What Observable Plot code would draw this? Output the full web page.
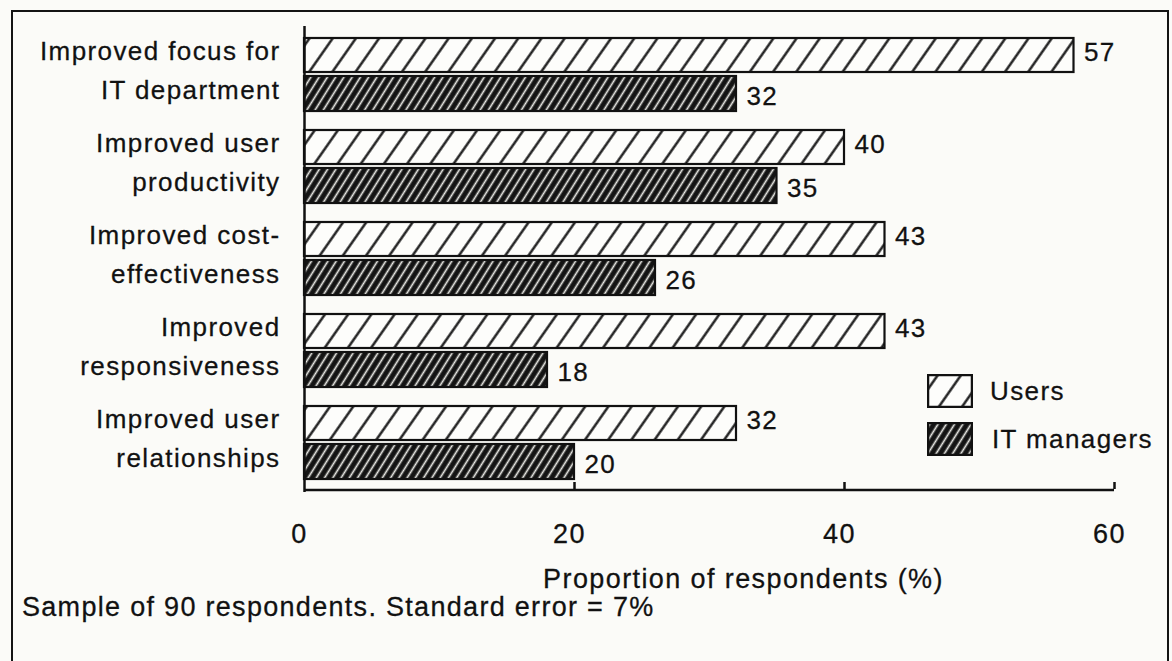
<!DOCTYPE html>
<html>
<head>
<meta charset="utf-8">
<script src="https://cdn.jsdelivr.net/npm/d3@7"></script>
<script src="https://cdn.jsdelivr.net/npm/@observablehq/plot@0.6"></script>
<style>
  html, body { margin: 0; padding: 0; }
  body { width: 1172px; height: 661px; overflow: hidden; position: relative; background: #fbfbf8;
         font-family: "Liberation Sans", Arial, Helvetica, sans-serif; color: #111; }
  #frame { position: absolute; left: 11px; top: 10px; width: 1154px; height: 700px;
           border: 2px solid #141414; border-bottom: none; pointer-events: none; }
  #chart { position: absolute; left: 0; top: 0; }
  #chart text { letter-spacing: 1.4px; stroke: #111; stroke-width: 0.28px; }
  #caption { position: absolute; left: 22px; top: 592px; font-size: 27px; line-height: 30px; letter-spacing: 1.3px; -webkit-text-stroke: 0.28px #111; }
  .leg { position: absolute; display: flex; align-items: center; font-size: 26px; letter-spacing: 1.4px; -webkit-text-stroke: 0.28px #111; }
  .leg svg { display: block; }
</style>
</head>
<body>
<svg width="0" height="0" style="position:absolute">
  <defs>
    <pattern id="hatchUsers" patternUnits="userSpaceOnUse" width="19" height="19" patternTransform="rotate(35)">
      <rect width="19" height="19" fill="#fdfdfb"></rect>
      <line x1="9.5" y1="0" x2="9.5" y2="19" stroke="#111" stroke-width="2.3"></line>
    </pattern>
    <pattern id="hatchIT" patternUnits="userSpaceOnUse" width="7" height="8" patternTransform="rotate(32)">
      <rect width="7" height="8" fill="#141414"></rect>
      <line x1="3.5" y1="0" x2="3.5" y2="8" stroke="#ecece8" stroke-width="1.7"></line>
    </pattern>
  </defs>
</svg>
<div id="frame"></div>
<div id="chart"></div>
<div class="leg" style="left:927px; top:374px;">
  <svg width="46" height="34"><rect x="1" y="1" width="44" height="32" fill="url(#hatchUsers)" stroke="#111" stroke-width="2.5"></rect></svg>
  <span style="margin-left:17px">Users</span>
</div>
<div class="leg" style="left:927px; top:422px;">
  <svg width="46" height="34"><rect x="1" y="1" width="44" height="32" fill="url(#hatchIT)" stroke="#111" stroke-width="2.5"></rect></svg>
  <span style="margin-left:19px">IT managers</span>
</div>
<div id="caption">Sample of 90 respondents. Standard error = 7%</div>
<script>
const categories = [
  "Improved focus for\nIT department",
  "Improved user\nproductivity",
  "Improved cost-\neffectiveness",
  "Improved\nresponsiveness",
  "Improved user\nrelationships"
];
const users = [57, 40, 43, 43, 32];
const itManagers = [32, 35, 26, 18, 20];
const xTicks = [0, 20, 40, 60];
const xDomain = [0, 60];
const xTitle = "Proportion of respondents (%)";

const usersData = categories.map((c, i) => ({cat: c, value: users[i]}));
const itData = categories.map((c, i) => ({cat: c, value: itManagers[i]}));
const lastCat = categories[categories.length - 1];

const chart = Plot.plot({
  width: 1172,
  height: 600,
  marginLeft: 304,
  marginRight: 58,
  marginTop: 26,
  marginBottom: 108,
  x: {domain: xDomain, axis: null},
  y: {domain: categories, paddingInner: 0.204, paddingOuter: 0.108, axis: null},
  style: {background: "transparent", fontFamily: "'Liberation Sans', Arial, sans-serif", fontSize: "26px", color: "#111", overflow: "visible"},
  marks: [
    Plot.barX(usersData, {x: "value", y: "cat", insetBottom: 39, fill: "url(#hatchUsers)", stroke: "#111", strokeWidth: 2.2}),
    Plot.barX(itData, {x: "value", y: "cat", insetTop: 38, fill: "url(#hatchIT)", stroke: "#111", strokeWidth: 2.2}),
    Plot.text(usersData, {x: "value", y: "cat", text: d => String(d.value), dx: 10, dy: -22, textAnchor: "start", fontSize: 26, fill: "#111"}),
    Plot.text(itData, {x: "value", y: "cat", text: d => String(d.value), dx: 10, dy: 22, textAnchor: "start", fontSize: 26, fill: "#111"}),
    Plot.text(categories, {y: d => d, text: d => d, frameAnchor: "left", dx: -24, dy: -8, textAnchor: "end", lineHeight: 1.48, fontSize: 26, fill: "#111"}),
    Plot.ruleX([0], {stroke: "#111", strokeWidth: 2.5}),
    Plot.ruleY([lastCat], {x1: xDomain[0], x2: xDomain[1], dy: 47, stroke: "#111", strokeWidth: 2.5}),
    Plot.tickX(xTicks.slice(1), {x: d => d, y: () => lastCat, insetTop: 66, dy: 10, stroke: "#111", strokeWidth: 2.5}),
    Plot.text(xTicks, {x: d => d, text: d => String(d), frameAnchor: "bottom", dy: 50, dx: -5, fontSize: 27, fill: "#111"}),
    Plot.text([xTitle], {text: d => d, frameAnchor: "bottom", dy: 95, dx: 34, fontSize: 27, fill: "#111"})
  ]
});
document.getElementById("chart").appendChild(chart);
</script>
</body>
</html>
